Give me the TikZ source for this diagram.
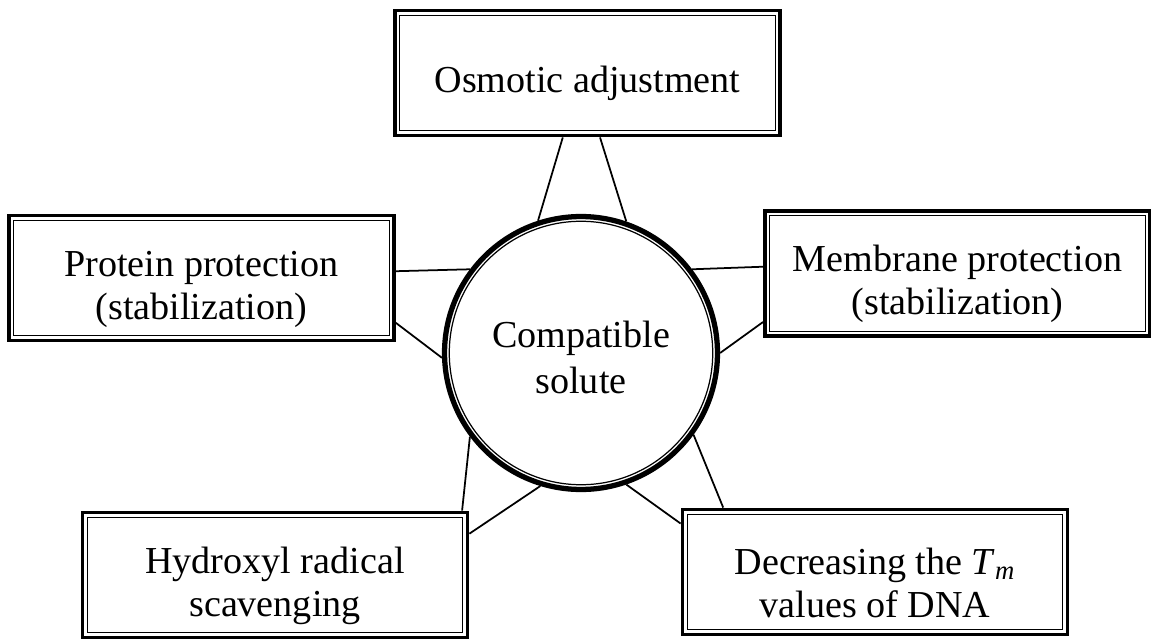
\documentclass[tikz,border=0pt]{standalone}
\usepackage{fontspec}
\setmainfont{Liberation Serif}
\usepackage{tikz}
\newcommand{\lift}{\rule{0pt}{0.95cm}}

\begin{document}
\begin{tikzpicture}[x=0.02cm, y=-0.02cm,
    font=\fontsize{21.7}{24.5}\selectfont,
    role/.style={draw, line width=2.2pt, align=center, inner sep=0pt,
        minimum width=7.7cm, minimum height=2.5cm,
        path picture={\draw[line width=0.6pt]
            ([shift={(2.6pt,2.6pt)}]path picture bounding box.south west) rectangle
            ([shift={(-2.6pt,-2.6pt)}]path picture bounding box.north east);}},
    solute/.style={draw, circle, line width=3pt, align=center, inner sep=0pt,
        minimum size=5.46cm, font=\fontsize{21.7}{26.5}\selectfont,
        path picture={\draw[line width=0.7pt]
            (path picture bounding box.center) circle (2.73cm-2.7pt);}},
    link/.style={line width=1pt}]
    \useasboundingbox (0, 0) rectangle (1151, 638);

    \node[solute] (cs) at (581, 353) {\rule{0pt}{0.7cm}Compatible\\solute};
    \node[role] (osmotic) at (587.5, 73) {\lift Osmotic adjustment};
    \node[role] (protein) at (201.5, 278) {\lift Protein protection\\(stabilization)};
    \node[role] (membrane) at (957.5, 273.5) {\lift Membrane protection\\(stabilization)};
    \node[role] (hydroxyl) at (275, 575) {\lift Hydroxyl radical\\scavenging};
    \node[role] (dna) at (875, 572) {\lift Decreasing the \textit{T}\textsubscript{\textit{m}}\\values of DNA};

    \draw[link] (osmotic.249) -- (cs.108);
    \draw[link] (osmotic.281) -- (cs.71);
    \draw[link] (protein.2.3) -- (cs.143);
    \draw[link] (protein.347) -- (cs.182);
    \draw[link] (membrane.178.7) -- (cs.37);
    \draw[link] (membrane.194) -- (cs.0);
    \draw[link] (hydroxyl.19.8) -- (cs.217);
    \draw[link] (hydroxyl.12.2) -- (cs.253);
    \draw[link] (dna.157.2) -- (cs.324);
    \draw[link] (dna.166.8) -- (cs.289);
\end{tikzpicture}
\end{document}
